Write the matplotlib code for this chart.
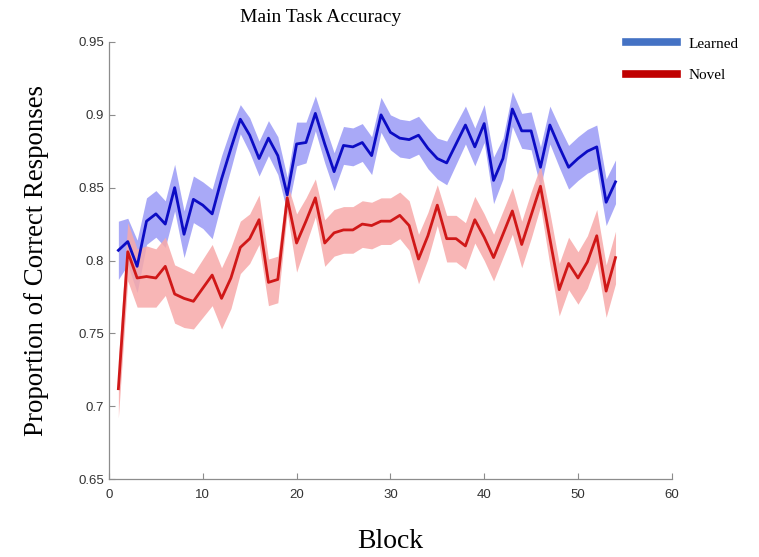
import numpy as np
import matplotlib
matplotlib.use("Agg")
import matplotlib.pyplot as plt
from matplotlib.lines import Line2D
from matplotlib.ticker import FormatStrFormatter

# block numbers 1..54
blocks = list(range(1, 55))

# mean proportion correct, learned items
learned = [0.807, 0.813, 0.796, 0.827, 0.832, 0.825, 0.850, 0.818, 0.842, 0.838,
           0.832, 0.856, 0.877, 0.897, 0.886, 0.870, 0.884, 0.872, 0.845, 0.880,
           0.881, 0.901, 0.880, 0.861, 0.879, 0.878, 0.881, 0.872, 0.900, 0.888,
           0.884, 0.883, 0.886, 0.877, 0.870, 0.867, 0.880, 0.893, 0.878, 0.894,
           0.855, 0.870, 0.904, 0.889, 0.889, 0.864, 0.893, 0.878, 0.864, 0.870,
           0.875, 0.878, 0.840, 0.854]
learned_sem = [0.020, 0.016, 0.018, 0.016, 0.016, 0.016, 0.016, 0.016, 0.016, 0.016,
               0.017, 0.016, 0.014, 0.010, 0.012, 0.012, 0.012, 0.013, 0.012, 0.015,
               0.014, 0.012, 0.013, 0.013, 0.013, 0.013, 0.013, 0.013, 0.012, 0.012,
               0.013, 0.013, 0.013, 0.014, 0.014, 0.015, 0.014, 0.013, 0.013, 0.013,
               0.016, 0.014, 0.012, 0.012, 0.013, 0.014, 0.013, 0.014, 0.015, 0.015,
               0.015, 0.015, 0.016, 0.015]

# mean proportion correct, novel items
novel = [0.712, 0.806, 0.788, 0.789, 0.788, 0.796, 0.777, 0.774, 0.772, 0.781,
         0.790, 0.774, 0.788, 0.809, 0.815, 0.828, 0.785, 0.787, 0.843, 0.812,
         0.827, 0.843, 0.812, 0.819, 0.821, 0.821, 0.825, 0.824, 0.827, 0.827,
         0.831, 0.824, 0.801, 0.817, 0.838, 0.815, 0.815, 0.810, 0.828, 0.816,
         0.802, 0.818, 0.834, 0.811, 0.831, 0.851, 0.815, 0.780, 0.798, 0.788,
         0.799, 0.817, 0.779, 0.802]
novel_sem = [0.020, 0.020, 0.020, 0.021, 0.020, 0.020, 0.020, 0.020, 0.019, 0.020,
             0.021, 0.021, 0.021, 0.018, 0.017, 0.017, 0.016, 0.016, 0.010, 0.020,
             0.016, 0.013, 0.016, 0.016, 0.016, 0.016, 0.016, 0.016, 0.016, 0.016,
             0.016, 0.017, 0.017, 0.016, 0.014, 0.016, 0.016, 0.016, 0.016, 0.016,
             0.016, 0.016, 0.016, 0.016, 0.016, 0.014, 0.018, 0.018, 0.018, 0.018,
             0.018, 0.018, 0.018, 0.018]

x = np.array(blocks)
lm, ls = np.array(learned), np.array(learned_sem)
nm, ns = np.array(novel), np.array(novel_sem)

serif = ["Liberation Serif", "DejaVu Serif"]
sans = ["Liberation Sans", "DejaVu Sans"]

fig = plt.figure(figsize=(7.59, 5.57), dpi=100)
ax = fig.add_axes([0.1436, 0.140, 0.7415, 0.7846])

ax.fill_between(x, lm - ls, lm + ls, color="#a9a9f7", linewidth=0)
ax.fill_between(x, nm - ns, nm + ns, color="#f7a9a9", linewidth=0, alpha=0.85)
ax.plot(x, lm, color="#0c0cc4", lw=2.0)
ax.plot(x, nm, color="#d01818", lw=2.0)

ax.set_xlim(0, 60)
ax.set_ylim(0.65, 0.95)
ax.set_xticks(range(0, 61, 10))
ax.set_yticks([0.65, 0.7, 0.75, 0.8, 0.85, 0.9, 0.95])
ax.yaxis.set_major_formatter(FormatStrFormatter("%g"))
for s in ["top", "right"]:
    ax.spines[s].set_visible(False)
for s in ["left", "bottom"]:
    ax.spines[s].set_color("#8c8c8c")
    ax.spines[s].set_linewidth(0.9)
ax.tick_params(direction="in", length=4, color="#8c8c8c", labelcolor="#333333",
               labelsize=9.5)
ax.tick_params(axis="x", pad=7)
for lab in ax.get_xticklabels() + ax.get_yticklabels():
    lab.set_family(sans)

# title sits left of the axes centre in the original
fig.text(321 / 759, 1 - 17 / 557, "Main Task Accuracy", family=serif,
         fontsize=14, ha="center", va="center")
ax.set_xlabel("Block", family=serif, fontsize=20, labelpad=20)
ax.set_ylabel("Proportion of Correct Responses", family=serif, fontsize=19.4,
              labelpad=21)

handles = [Line2D([], [], color="#4472c4", lw=5.5),
           Line2D([], [], color="#c00000", lw=5.5)]
fig.legend(handles, ["Learned", "Novel"], loc="upper left",
           bbox_to_anchor=(0.806, 0.958), frameon=False,
           prop={"family": serif, "size": 11}, handlelength=3.4,
           handletextpad=0.75, labelspacing=1.15)

fig.savefig("out.png", dpi=100)
